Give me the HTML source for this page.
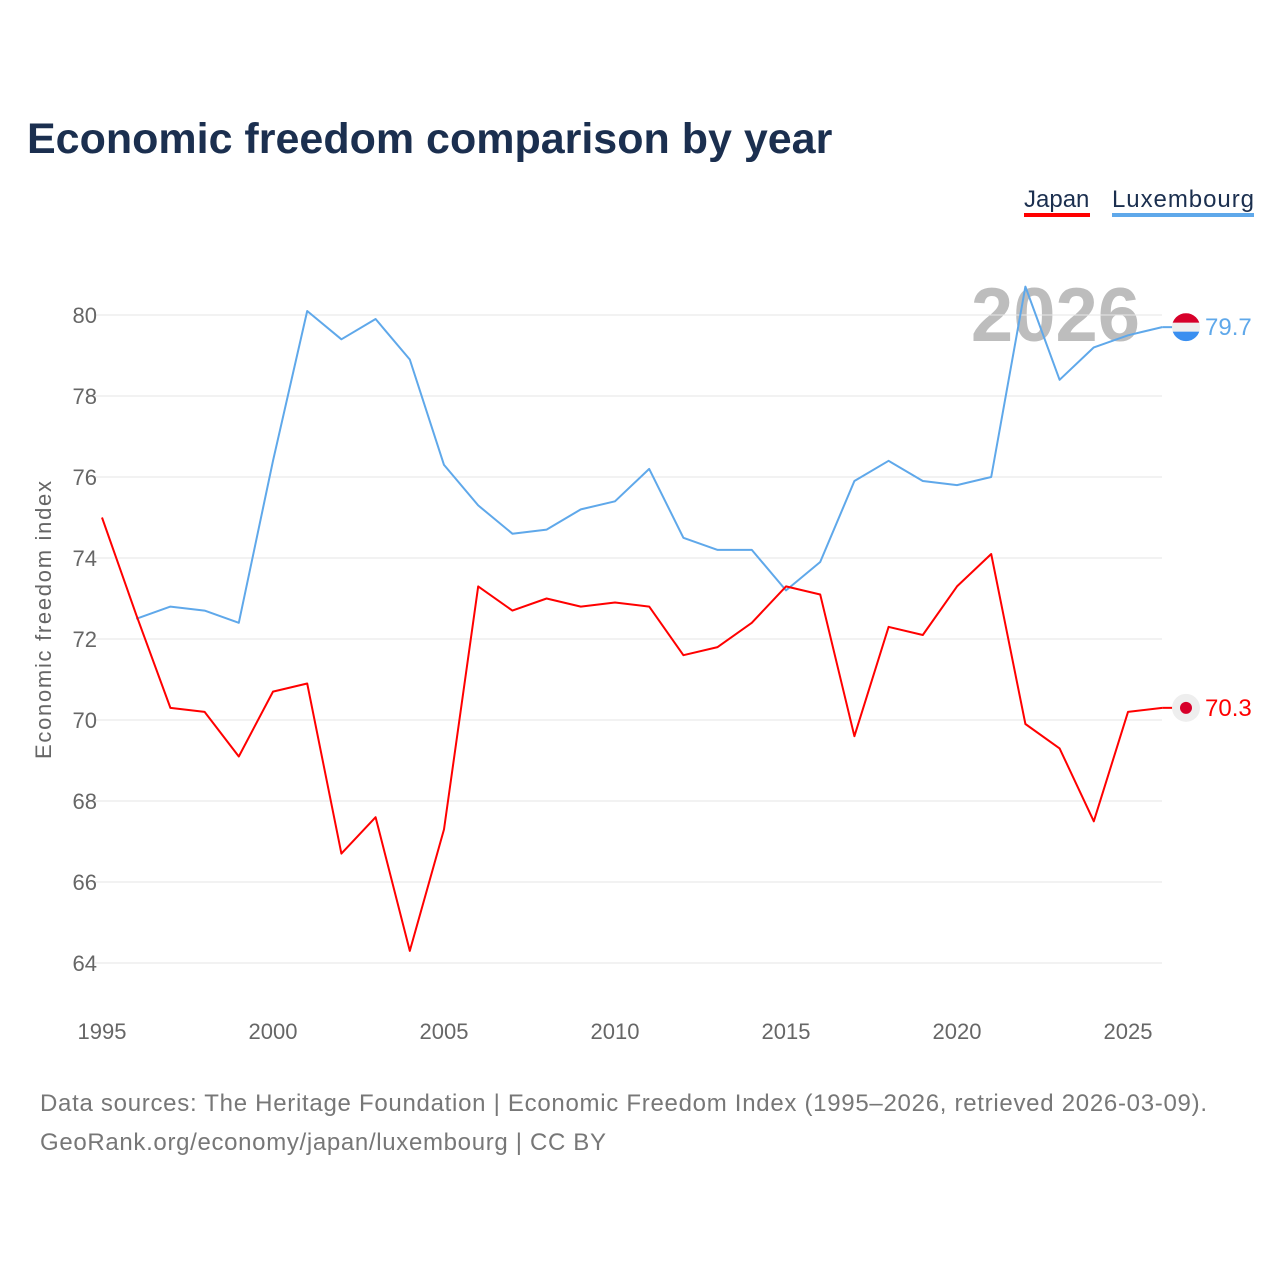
<!DOCTYPE html>
<html><head><meta charset="utf-8"><style>
body{margin:0;background:#fff;font-family:"Liberation Sans",sans-serif}
</style></head><body>
<svg id="c" width="1280" height="1280" xmlns="http://www.w3.org/2000/svg" style="display:block">
<text x="27" y="153" font-size="43" font-weight="bold" fill="#1b2f4f">Economic freedom comparison by year</text>
<g>
<text x="1024" y="207" font-size="24" fill="#1b2f4f">Japan</text>
<rect x="1024" y="213" width="66" height="4" fill="#ff0000"/>
<text x="1112" y="207" font-size="24" fill="#1b2f4f" textLength="142">Luxembourg</text>
<rect x="1112" y="213" width="142" height="4" fill="#5fa8ea"/>
</g>
<text x="1140" y="341" font-size="76" font-weight="bold" fill="#bdbdbd" text-anchor="end">2026</text>
<g id="grid"></g><g id="lines"></g>
<text transform="translate(51,620) rotate(-90)" font-size="22" fill="#666" text-anchor="middle" textLength="278">Economic freedom index</text>
<text x="40" y="1111" font-size="24" fill="#777" textLength="1167">Data sources: The Heritage Foundation | Economic Freedom Index (1995–2026, retrieved 2026-03-09).</text>
<text x="40" y="1150" font-size="24" fill="#777" textLength="566">GeoRank.org/economy/japan/luxembourg | CC BY</text>
</svg>
<script>
const years=[1995,1996,1997,1998,1999,2000,2001,2002,2003,2004,2005,2006,2007,2008,2009,2010,2011,2012,2013,2014,2015,2016,2017,2018,2019,2020,2021,2022,2023,2024,2025,2026];
const japan=[75.0,72.6,70.3,70.2,69.1,70.7,70.9,66.7,67.6,64.3,67.3,73.3,72.7,73.0,72.8,72.9,72.8,71.6,71.8,72.4,73.3,73.1,69.6,72.3,72.1,73.3,74.1,69.9,69.3,67.5,70.2,70.3];
const luxembourg=[null,72.5,72.8,72.7,72.4,76.4,80.1,79.4,79.9,78.9,76.3,75.3,74.6,74.7,75.2,75.4,76.2,74.5,74.2,74.2,73.2,73.9,75.9,76.4,75.9,75.8,76.0,80.7,78.4,79.2,79.5,79.7];
const yTicks=[64,66,68,70,72,74,76,78,80];
const xTicks=[1995,2000,2005,2010,2015,2020,2025];
const NS="http://www.w3.org/2000/svg";
const X=y=>102+(y-1995)*34.2;
const Y=v=>963-(v-64)*40.5;
const grid=document.getElementById('grid'),lines=document.getElementById('lines');
function mk(t,a,p){const e=document.createElementNS(NS,t);for(const k in a)e.setAttribute(k,a[k]);p.appendChild(e);return e;}
yTicks.forEach(v=>{
 const l=mk('line',{x1:95,x2:1162,y1:Y(v),y2:Y(v),stroke:'#e6e6e6','stroke-width':1},grid);
 
 
 const t=mk('text',{x:97,y:Y(v)+8,'font-size':22,fill:'#666','text-anchor':'end'},grid);
 t.textContent=v;
 
 
});
xTicks.forEach(v=>{
 const t=mk('text',{x:X(v),y:1039,'font-size':22,fill:'#666','text-anchor':'middle'},grid);
 t.textContent=v;
 
 
});
function series(vals,color,name){
 const pts=[];vals.forEach((v,i)=>{if(v!==null)pts.push(X(years[i]).toFixed(1)+','+Y(v).toFixed(1));});
 const p=mk('polyline',{points:pts.join(' '),fill:'none',stroke:color,'stroke-width':2,'stroke-linejoin':'round'},lines);
 
 
 const last=vals[vals.length-1],ly=Y(last);
 const c=mk('line',{x1:X(2026),x2:1174,y1:ly,y2:ly,stroke:color,'stroke-width':2},lines);
 
 
 const g=mk('g',{},lines);
 
 
 const cx=1186;
 if(name==='japan'){
  mk('circle',{cx:cx,cy:ly,r:14,fill:'#eeeeee'},g);
  mk('circle',{cx:cx,cy:ly,r:6,fill:'#d7002a'},g);
 } else {
  mk('clipPath',{id:'lc'},g);
  mk('circle',{cx:cx,cy:ly,r:14},g.lastChild);
  const gg=mk('g',{'clip-path':'url(#lc)'},g);
  mk('rect',{x:cx-14,y:ly-14,width:28,height:10,fill:'#d7002a'},gg);
  mk('rect',{x:cx-14,y:ly-4.5,width:28,height:9,fill:'#eeeeee'},gg);
  mk('rect',{x:cx-14,y:ly+4.5,width:28,height:10,fill:'#3a8ff0'},gg);
 }
 const t=mk('text',{x:1205,y:ly+8,'font-size':24,fill:color},lines);
 t.textContent=last.toFixed(1);
 
 
}
series(luxembourg,'#5fa8ea','luxembourg');
series(japan,'#ff0000','japan');
</script>
</body></html>
